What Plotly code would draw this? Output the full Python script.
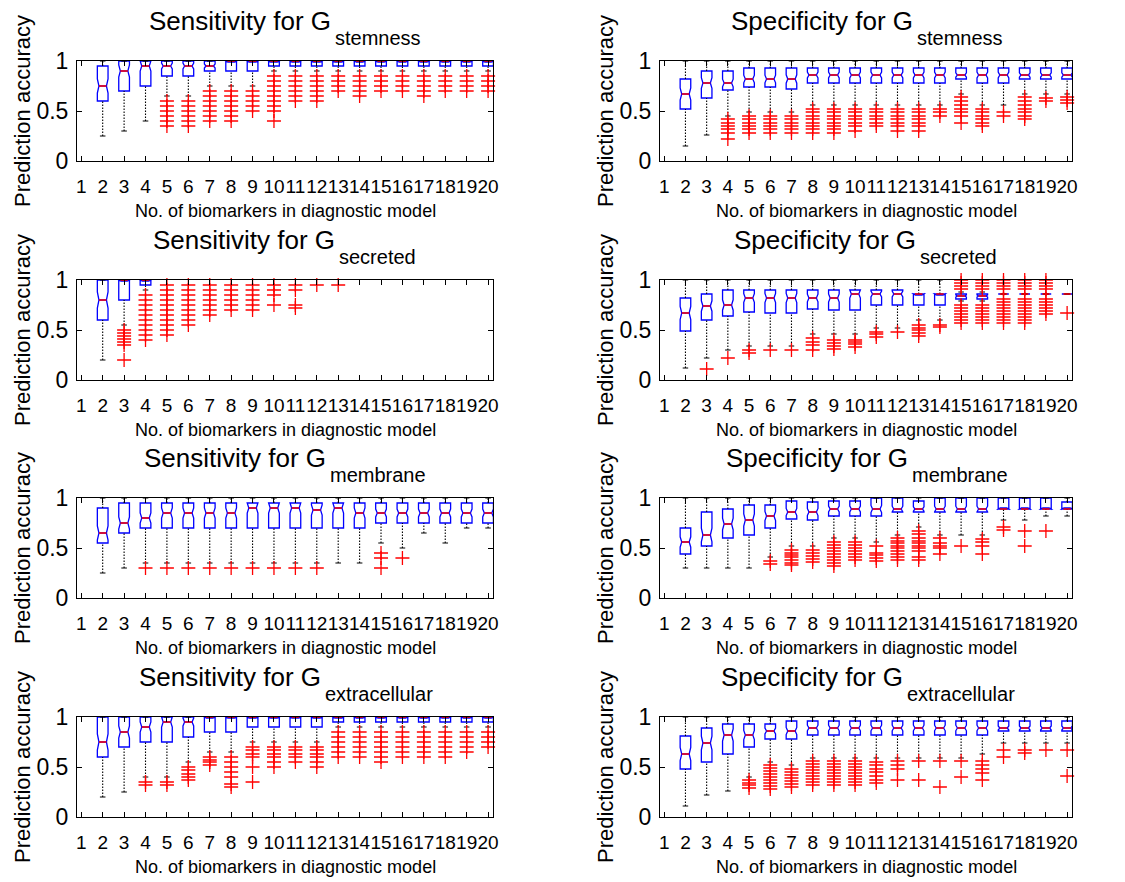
import plotly.graph_objects as go

# ---------------- data ----------------
POS = list(range(2, 21))                 # box positions (no. of biomarkers)
XTICKS = list(range(1, 21))
YTICKS = [0, 0.5, 1]
YTICKTEXT = ["0", "0.5", "1"]

# Sensitivity, G_stemness
SENS_STEM_Q1 = [0.60, 0.70, 0.75, 0.85, 0.85, 0.90, 0.90, 0.90, 0.95, 0.95, 0.95, 0.95, 0.95, 0.95, 0.95, 0.95, 0.95, 0.95, 0.95]
SENS_STEM_MED = [0.75, 0.90, 0.95, 0.95, 0.95, 0.95, 1.0, 1.0, 1.0, 1.0, 1.0, 1.0, 1.0, 1.0, 1.0, 1.0, 1.0, 1.0, 1.0]
SENS_STEM_Q3 = [0.95, 1.0, 1.0, 1.0, 1.0, 1.0, 1.0, 1.0, 1.0, 1.0, 1.0, 1.0, 1.0, 1.0, 1.0, 1.0, 1.0, 1.0, 1.0]
SENS_STEM_LO = [0.25, 0.30, 0.40, 0.65, 0.65, 0.75, 0.75, 0.75, 0.90, 0.90, 0.90, 0.90, 0.90, 0.90, 0.90, 0.90, 0.90, 0.90, 0.90]
SENS_STEM_HI = [1.0] * 19
SENS_STEM_OUT = [
    [], [], [],
    [0.60, 0.55, 0.50, 0.45, 0.40, 0.35],
    [0.60, 0.55, 0.50, 0.45, 0.40, 0.35],
    [0.70, 0.65, 0.60, 0.55, 0.50, 0.45, 0.40],
    [0.70, 0.65, 0.60, 0.55, 0.50, 0.45, 0.40],
    [0.70, 0.65, 0.60, 0.55, 0.50],
    [0.85, 0.80, 0.75, 0.70, 0.65, 0.60, 0.55, 0.50, 0.40],
    [0.85, 0.80, 0.75, 0.70, 0.65, 0.60],
    [0.85, 0.80, 0.75, 0.70, 0.65, 0.60],
    [0.85, 0.80, 0.75, 0.70],
    [0.85, 0.80, 0.75, 0.70, 0.65],
    [0.85, 0.80, 0.75, 0.70],
    [0.85, 0.80, 0.75, 0.70],
    [0.85, 0.80, 0.75, 0.70, 0.65],
    [0.85, 0.80, 0.75, 0.70],
    [0.85, 0.80, 0.75, 0.70],
    [0.85, 0.80, 0.75, 0.70],
]

# Specificity, G_stemness
SPEC_STEM_Q1 = [0.52, 0.63, 0.71, 0.74, 0.74, 0.72, 0.78, 0.78, 0.78, 0.78, 0.78, 0.78, 0.78, 0.82, 0.78, 0.78, 0.82, 0.82, 0.82]
SPEC_STEM_MED = [0.67, 0.78, 0.78, 0.82, 0.82, 0.82, 0.86, 0.86, 0.86, 0.86, 0.86, 0.86, 0.86, 0.86, 0.86, 0.86, 0.86, 0.86, 0.86]
SPEC_STEM_Q3 = [0.82, 0.90, 0.90, 0.93, 0.93, 0.93, 0.93, 0.93, 0.93, 0.93, 0.93, 0.93, 0.93, 0.93, 0.93, 0.93, 0.93, 0.93, 0.93]
SPEC_STEM_LO = [0.15, 0.26, 0.45, 0.49, 0.49, 0.49, 0.56, 0.56, 0.56, 0.56, 0.56, 0.56, 0.56, 0.67, 0.56, 0.56, 0.67, 0.67, 0.67]
SPEC_STEM_HI = [1.0] * 19
SPEC_STEM_OUT = [
    [], [],
    [0.42, 0.38, 0.35, 0.32, 0.28, 0.22],
    [0.45, 0.42, 0.38, 0.35, 0.32, 0.28],
    [0.45, 0.42, 0.38, 0.35, 0.32, 0.28],
    [0.45, 0.42, 0.38, 0.35, 0.32, 0.28],
    [0.52, 0.49, 0.45, 0.42, 0.38, 0.35, 0.32, 0.28],
    [0.52, 0.49, 0.45, 0.42, 0.38, 0.35, 0.32, 0.28],
    [0.52, 0.49, 0.45, 0.42, 0.38, 0.35, 0.30],
    [0.52, 0.49, 0.45, 0.42, 0.38, 0.35],
    [0.52, 0.49, 0.45, 0.42, 0.38, 0.35, 0.30],
    [0.52, 0.49, 0.45, 0.42, 0.38, 0.35, 0.30],
    [0.52, 0.49, 0.45],
    [0.64, 0.60, 0.56, 0.52, 0.49, 0.45, 0.38],
    [0.52, 0.49, 0.45, 0.42, 0.38, 0.35],
    [0.49, 0.45],
    [0.64, 0.60, 0.56, 0.52, 0.49, 0.45, 0.42],
    [0.63, 0.60],
    [0.64, 0.61, 0.58],
]

# Sensitivity, G_secreted (boxes only at 2-4; the rest collapse at 1.0)
SENS_SECR_POS = [2, 3, 4]
SENS_SECR_Q1 = [0.60, 0.80, 0.95]
SENS_SECR_MED = [0.80, 1.0, 1.0]
SENS_SECR_Q3 = [1.0, 1.0, 1.0]
SENS_SECR_LO = [0.20, 0.55, 0.90]
SENS_SECR_HI = [1.0, 1.0, 1.0]
SENS_SECR_OUT = [
    [],
    [0.50, 0.47, 0.44, 0.41, 0.38, 0.35, 0.20],
    [0.85, 0.80, 0.75, 0.70, 0.65, 0.60, 0.55, 0.50, 0.45, 0.40],
    [0.95, 0.90, 0.85, 0.80, 0.75, 0.70, 0.65, 0.60, 0.55, 0.50, 0.45],
    [0.95, 0.90, 0.85, 0.80, 0.75, 0.70, 0.65, 0.60, 0.55],
    [0.95, 0.90, 0.85, 0.80, 0.75, 0.70, 0.65],
    [0.95, 0.90, 0.85, 0.80, 0.75, 0.70],
    [0.95, 0.90, 0.85, 0.80, 0.75, 0.70],
    [0.95, 0.90, 0.85, 0.75],
    [0.95, 0.90, 0.75, 0.72],
    [0.95],
    [0.95],
    [], [], [], [], [], [], [],
]

# Specificity, G_secreted
SPEC_SECR_Q1 = [0.49, 0.60, 0.64, 0.68, 0.67, 0.67, 0.71, 0.70, 0.70, 0.75, 0.75, 0.75, 0.75, 0.81, 0.81, 0.86, 0.86, 0.86, 0.86]
SPEC_SECR_MED = [0.67, 0.74, 0.75, 0.82, 0.82, 0.82, 0.82, 0.82, 0.86, 0.86, 0.86, 0.86, 0.86, 0.84, 0.84, 0.86, 0.86, 0.86, 0.86]
SPEC_SECR_Q3 = [0.82, 0.86, 0.90, 0.90, 0.90, 0.90, 0.90, 0.90, 0.90, 0.90, 0.90, 0.86, 0.86, 0.86, 0.86, 0.86, 0.86, 0.86, 0.86]
SPEC_SECR_LO = [0.12, 0.22, 0.30, 0.34, 0.34, 0.34, 0.46, 0.46, 0.46, 0.52, 0.52, 0.60, 0.60, 0.79, 0.79, 0.86, 0.86, 0.86, 0.86]
SPEC_SECR_HI = [1.0, 1.0, 1.0, 1.0, 1.0, 1.0, 1.0, 1.0, 1.0, 1.0, 1.0, 1.0, 1.0, 0.88, 0.88, 0.86, 0.86, 0.86, 0.86]
SPEC_SECR_OUT = [
    [],
    [0.11],
    [0.22],
    [0.30, 0.27],
    [0.30],
    [0.30],
    [0.42, 0.38, 0.35, 0.30],
    [0.40, 0.37, 0.34, 0.31],
    [0.40, 0.38, 0.36, 0.33],
    [0.48, 0.46, 0.43],
    [0.48],
    [0.55, 0.52, 0.50, 0.47, 0.44],
    [0.55, 0.53],
    [1.00, 0.97, 0.94, 0.91, 0.75, 0.72, 0.69, 0.66, 0.63, 0.60, 0.57],
    [1.00, 0.97, 0.94, 0.91, 0.75, 0.72, 0.69, 0.66, 0.63, 0.60, 0.57],
    [1.00, 0.97, 0.94, 0.91, 0.81, 0.78, 0.75, 0.72, 0.69, 0.66, 0.63, 0.60, 0.57],
    [1.00, 0.97, 0.94, 0.91, 0.81, 0.78, 0.75, 0.72, 0.69, 0.66, 0.63, 0.60, 0.57],
    [1.00, 0.97, 0.94, 0.91, 0.81, 0.78, 0.75, 0.72, 0.69, 0.66],
    [0.67],
]

# Sensitivity, G_membrane
SENS_MEMB_Q1 = [0.55, 0.65, 0.70, 0.70, 0.70, 0.70, 0.70, 0.70, 0.70, 0.70, 0.70, 0.70, 0.70, 0.75, 0.75, 0.75, 0.75, 0.75, 0.75]
SENS_MEMB_MED = [0.65, 0.75, 0.80, 0.85, 0.85, 0.85, 0.85, 0.90, 0.90, 0.90, 0.88, 0.90, 0.85, 0.85, 0.85, 0.85, 0.85, 0.85, 0.85]
SENS_MEMB_Q3 = [0.90, 0.95, 0.95, 0.95, 0.95, 0.95, 0.95, 0.95, 0.95, 0.95, 0.95, 0.95, 0.95, 0.95, 0.95, 0.95, 0.95, 0.95, 0.95]
SENS_MEMB_LO = [0.25, 0.30, 0.35, 0.35, 0.35, 0.35, 0.35, 0.35, 0.35, 0.35, 0.35, 0.35, 0.35, 0.55, 0.50, 0.65, 0.55, 0.70, 0.70]
SENS_MEMB_HI = [1.0] * 19
SENS_MEMB_OUT = [
    [], [],
    [0.30], [0.30], [0.30], [0.30], [0.30], [0.30], [0.30], [0.30], [0.30],
    [], [],
    [0.45, 0.40, 0.30],
    [0.40],
    [], [], [], [],
]

# Specificity, G_membrane
SPEC_MEMB_Q1 = [0.44, 0.52, 0.60, 0.63, 0.70, 0.79, 0.78, 0.82, 0.82, 0.82, 0.86, 0.86, 0.86, 0.86, 0.86, 0.89, 0.89, 0.89, 0.89]
SPEC_MEMB_MED = [0.56, 0.63, 0.74, 0.78, 0.82, 0.86, 0.86, 0.89, 0.89, 0.89, 0.89, 0.89, 0.89, 0.89, 0.89, 0.89, 0.89, 0.89, 0.89]
SPEC_MEMB_Q3 = [0.70, 0.86, 0.89, 0.93, 0.93, 0.97, 0.96, 0.97, 0.97, 1.0, 1.0, 0.97, 1.0, 1.0, 1.0, 1.0, 1.0, 1.0, 0.96]
SPEC_MEMB_LO = [0.30, 0.30, 0.30, 0.30, 0.41, 0.52, 0.52, 0.60, 0.60, 0.56, 0.63, 0.71, 0.63, 0.63, 0.63, 0.78, 0.78, 0.82, 0.82]
SPEC_MEMB_HI = [1.0] * 19
SPEC_MEMB_OUT = [
    [], [], [], [],
    [0.37, 0.34],
    [0.48, 0.45, 0.43, 0.41, 0.38, 0.35, 0.33],
    [0.48, 0.45, 0.42, 0.39, 0.36],
    [0.56, 0.53, 0.50, 0.47, 0.44, 0.41, 0.38, 0.35, 0.32],
    [0.56, 0.53, 0.50, 0.47, 0.44, 0.41, 0.38],
    [0.52, 0.45, 0.43, 0.40, 0.37],
    [0.60, 0.57, 0.55, 0.52, 0.50, 0.47, 0.44, 0.41, 0.38],
    [0.67, 0.64, 0.60, 0.57, 0.55, 0.52, 0.50, 0.47, 0.41, 0.38],
    [0.60, 0.55, 0.52, 0.50, 0.44],
    [0.52],
    [0.59, 0.56, 0.52, 0.44],
    [0.71, 0.68],
    [0.67, 0.52],
    [0.67],
    [],
]

# Sensitivity, G_extracellular
SENS_EXTR_Q1 = [0.60, 0.70, 0.75, 0.75, 0.80, 0.85, 0.85, 0.90, 0.90, 0.90, 0.90, 0.95, 0.95, 0.95, 0.95, 0.95, 0.95, 0.95, 0.95]
SENS_EXTR_MED = [0.75, 0.85, 0.90, 0.95, 0.95, 1.0, 1.0, 1.0, 1.0, 1.0, 1.0, 1.0, 1.0, 1.0, 1.0, 1.0, 1.0, 1.0, 1.0]
SENS_EXTR_Q3 = [1.0] * 19
SENS_EXTR_LO = [0.20, 0.25, 0.40, 0.40, 0.55, 0.65, 0.65, 0.75, 0.75, 0.75, 0.75, 0.90, 0.90, 0.90, 0.90, 0.90, 0.90, 0.90, 0.90]
SENS_EXTR_HI = [1.0] * 19
SENS_EXTR_OUT = [
    [], [],
    [0.35, 0.32],
    [0.35, 0.32],
    [0.50, 0.47, 0.43, 0.40, 0.37],
    [0.60, 0.57, 0.55, 0.52],
    [0.60, 0.55, 0.50, 0.45, 0.40, 0.33, 0.30],
    [0.70, 0.67, 0.63, 0.60, 0.50, 0.35],
    [0.70, 0.67, 0.63, 0.60, 0.55, 0.50],
    [0.70, 0.67, 0.63, 0.60, 0.55],
    [0.70, 0.67, 0.63, 0.60, 0.55, 0.50],
    [0.85, 0.80, 0.75, 0.70, 0.65, 0.60],
    [0.85, 0.80, 0.75, 0.70, 0.65, 0.60],
    [0.85, 0.80, 0.75, 0.70, 0.65, 0.60, 0.55],
    [0.85, 0.80, 0.75, 0.70, 0.65, 0.60],
    [0.85, 0.80, 0.75, 0.70, 0.65, 0.60],
    [0.85, 0.80, 0.75, 0.70, 0.65, 0.60],
    [0.85, 0.80, 0.75, 0.70, 0.65],
    [0.85, 0.80, 0.75, 0.70],
]

# Specificity, G_extracellular
SPEC_EXTR_Q1 = [0.48, 0.55, 0.63, 0.70, 0.78, 0.78, 0.82, 0.82, 0.82, 0.82, 0.82, 0.82, 0.82, 0.82, 0.82, 0.86, 0.86, 0.86, 0.86]
SPEC_EXTR_MED = [0.63, 0.74, 0.82, 0.82, 0.86, 0.86, 0.89, 0.89, 0.89, 0.89, 0.89, 0.89, 0.89, 0.89, 0.89, 0.89, 0.89, 0.89, 0.89]
SPEC_EXTR_Q3 = [0.81, 0.89, 0.93, 0.93, 0.93, 0.96, 0.96, 0.96, 0.96, 0.96, 0.96, 0.96, 0.96, 0.96, 0.96, 0.96, 0.96, 0.96, 0.96]
SPEC_EXTR_LO = [0.11, 0.22, 0.26, 0.40, 0.55, 0.52, 0.59, 0.59, 0.59, 0.59, 0.59, 0.59, 0.59, 0.59, 0.63, 0.74, 0.74, 0.74, 0.74]
SPEC_EXTR_HI = [1.0] * 19
SPEC_EXTR_OUT = [
    [], [], [],
    [0.37, 0.34, 0.32, 0.29],
    [0.52, 0.49, 0.46, 0.43, 0.40, 0.37, 0.34, 0.31, 0.28],
    [0.48, 0.45, 0.42, 0.39, 0.36, 0.33, 0.30],
    [0.56, 0.53, 0.50, 0.47, 0.44, 0.41, 0.38, 0.35, 0.32],
    [0.56, 0.53, 0.50, 0.47, 0.44, 0.41, 0.38, 0.35, 0.32],
    [0.56, 0.53, 0.50, 0.47, 0.44, 0.41, 0.38, 0.35, 0.32],
    [0.55, 0.52, 0.48, 0.45, 0.41, 0.37, 0.34],
    [0.56, 0.52, 0.48, 0.37],
    [0.56, 0.37],
    [0.56, 0.30],
    [0.56, 0.40],
    [0.56, 0.52, 0.48, 0.44, 0.37],
    [0.67, 0.60],
    [0.67, 0.64],
    [0.67],
    [0.67, 0.41],
]

PANELS = [
    ("Sensitivity for G", "stemness", POS, SENS_STEM_Q1, SENS_STEM_MED, SENS_STEM_Q3, SENS_STEM_LO, SENS_STEM_HI, SENS_STEM_OUT),
    ("Specificity for G", "stemness", POS, SPEC_STEM_Q1, SPEC_STEM_MED, SPEC_STEM_Q3, SPEC_STEM_LO, SPEC_STEM_HI, SPEC_STEM_OUT),
    ("Sensitivity for G", "secreted", SENS_SECR_POS, SENS_SECR_Q1, SENS_SECR_MED, SENS_SECR_Q3, SENS_SECR_LO, SENS_SECR_HI, SENS_SECR_OUT),
    ("Specificity for G", "secreted", POS, SPEC_SECR_Q1, SPEC_SECR_MED, SPEC_SECR_Q3, SPEC_SECR_LO, SPEC_SECR_HI, SPEC_SECR_OUT),
    ("Sensitivity for G", "membrane", POS, SENS_MEMB_Q1, SENS_MEMB_MED, SENS_MEMB_Q3, SENS_MEMB_LO, SENS_MEMB_HI, SENS_MEMB_OUT),
    ("Specificity for G", "membrane", POS, SPEC_MEMB_Q1, SPEC_MEMB_MED, SPEC_MEMB_Q3, SPEC_MEMB_LO, SPEC_MEMB_HI, SPEC_MEMB_OUT),
    ("Sensitivity for G", "extracellular", POS, SENS_EXTR_Q1, SENS_EXTR_MED, SENS_EXTR_Q3, SENS_EXTR_LO, SENS_EXTR_HI, SENS_EXTR_OUT),
    ("Specificity for G", "extracellular", POS, SPEC_EXTR_Q1, SPEC_EXTR_MED, SPEC_EXTR_Q3, SPEC_EXTR_LO, SPEC_EXTR_HI, SPEC_EXTR_OUT),
]

XLABEL = "No. of biomarkers in diagnostic model"
YLABEL = "Prediction accuracy"

# ---------------- layout / style ----------------
W, H = 1125, 882
COL_PX = [(77, 493), (660, 1072)]  # pixel positions of the plot frames
ROW_PX = [(61, 161), (280, 380), (498, 598), (717, 817)]
TITLE_JOIN = [(333, 915), (337, 918), (328, 910), (323, 905)]
YLAB_X = [22, 605]
FONT = "Liberation Sans, Arial, Helvetica, sans-serif"
BLUE = "#0000ff"
RED = "#ff0000"
BOX_W = 0.5
NOTCH_W = 0.15          # plotly: notch narrows box to (1 - 2*notchwidth)
CAP_HALF = 0.13


def px_x(p):
    return p / W


def px_y(p):
    return 1 - p / H


fig = go.Figure()
layout = dict(
    template="none",
    width=W, height=H, margin=dict(l=0, r=0, t=0, b=0, autoexpand=False),
    paper_bgcolor="white", plot_bgcolor="white", showlegend=False,
    font=dict(family=FONT, color="black"),
)
annotations = []

for i, (tmain, tsub, pos, q1, med, q3, lo, hi, outs) in enumerate(PANELS):
    row, col = divmod(i, 2)
    xl, xr = COL_PX[col]
    yt, yb = ROW_PX[row]
    sfx = "" if i == 0 else str(i + 1)
    xa, ya = "x" + sfx, "y" + sfx

    layout["xaxis" + sfx] = dict(
        domain=[px_x(xl), px_x(xr)], anchor=ya, range=[0.8, 20.23], automargin=False,
        tickmode="array", tickvals=XTICKS, ticktext=[str(v) for v in XTICKS],
        ticks="inside", ticklen=5, tickcolor="black", tickwidth=1,
        showline=True, linecolor="black", linewidth=1, mirror="allticks",
        showgrid=False, zeroline=False, tickangle=0, ticklabelstandoff=8,
        tickfont=dict(family=FONT, size=19, color="black"), fixedrange=True,
    )
    layout["yaxis" + sfx] = dict(
        domain=[px_y(yb), px_y(yt)], anchor=xa, range=[0, 1], automargin=False,
        tickmode="array", tickvals=YTICKS, ticktext=YTICKTEXT,
        ticks="inside", ticklen=5, tickcolor="black", tickwidth=1,
        showline=True, linecolor="black", linewidth=1, mirror="allticks",
        showgrid=False, zeroline=False, ticklabelstandoff=3,
        tickfont=dict(family=FONT, size=23, color="black"), fixedrange=True,
    )

    # notch half-heights derived from the box stats
    notch = [max(0.0, min(0.2 * (c - a), m - a, c - m)) for a, m, c in zip(q1, med, q3)]

    # boxes (whiskers drawn separately so they can be black and dotted)
    fig.add_trace(go.Box(
        x=pos, q1=q1, median=med, q3=q3, lowerfence=q1, upperfence=q3,
        notched=True, notchspan=notch, notchwidth=NOTCH_W, width=BOX_W,
        orientation="v", boxpoints=False, whiskerwidth=0,
        line=dict(color=BLUE, width=1.3), fillcolor="rgba(0,0,0,0)",
        xaxis=xa, yaxis=ya, hoverinfo="skip",
    ))

    # whiskers
    wx, wy, cx, cy = [], [], [], []
    for p, a, c, l, h in zip(pos, q1, q3, lo, hi):
        if l < a:
            wx += [p, p, None]; wy += [l, a, None]
        if h > c:
            wx += [p, p, None]; wy += [c, h, None]
        cx += [p - CAP_HALF, p + CAP_HALF, None]; cy += [l, l, None]
        cx += [p - CAP_HALF, p + CAP_HALF, None]; cy += [h, h, None]
    fig.add_trace(go.Scatter(x=wx, y=wy, mode="lines", xaxis=xa, yaxis=ya,
                             line=dict(color="black", width=1.1, dash="1.5px,1.5px"),
                             hoverinfo="skip", cliponaxis=False))
    fig.add_trace(go.Scatter(x=cx, y=cy, mode="lines", xaxis=xa, yaxis=ya,
                             line=dict(color="black", width=1),
                             hoverinfo="skip", cliponaxis=False))

    # red medians (span the notch width)
    mh = BOX_W / 2 * (1 - 2 * NOTCH_W)
    mx, my = [], []
    for p, m in zip(pos, med):
        mx += [p - mh, p + mh, None]; my += [m, m, None]
    fig.add_trace(go.Scatter(x=mx, y=my, mode="lines", xaxis=xa, yaxis=ya,
                             line=dict(color=RED, width=1.5),
                             hoverinfo="skip", cliponaxis=False))

    # outliers
    ox, oy = [], []
    for p, vals in zip(POS, outs):
        for v in vals:
            ox.append(p); oy.append(v)
    fig.add_trace(go.Scatter(x=ox, y=oy, mode="markers", xaxis=xa, yaxis=ya,
                             marker=dict(symbol="cross-thin", size=10,
                                         line=dict(color=RED, width=1.3), color=RED),
                             hoverinfo="skip", cliponaxis=False))

    # titles: main text + subscript
    join = TITLE_JOIN[row][col]
    annotations.append(dict(text=tmain, x=px_x(join), y=px_y(yt - 40),
                            xref="paper", yref="paper", xanchor="right", yanchor="middle",
                            showarrow=False, font=dict(family=FONT, size=26, color="black")))
    annotations.append(dict(text=tsub, x=px_x(join), y=px_y(yt - 23),
                            xref="paper", yref="paper", xanchor="left", yanchor="middle",
                            showarrow=False, font=dict(family=FONT, size=20, color="black")))
    # axis labels
    annotations.append(dict(text=XLABEL, x=px_x((xl + xr) / 2), y=px_y(yb + 50),
                            xref="paper", yref="paper", xanchor="center", yanchor="middle",
                            showarrow=False, font=dict(family=FONT, size=18, color="black")))
    annotations.append(dict(text=YLABEL, x=px_x(YLAB_X[col]), y=px_y((yt + yb) / 2),
                            xref="paper", yref="paper", xanchor="center", yanchor="middle",
                            textangle=-90, showarrow=False,
                            font=dict(family=FONT, size=22, color="black")))

layout["annotations"] = annotations
fig.update_layout(**layout)
# remove the browser's default 8px body margin so the figure fills the window exactly
fig.write_html("out.html",
               config={"displayModeBar": False, "staticPlot": True},
               post_script="document.body.style.margin='0';document.body.style.overflow='hidden';")
